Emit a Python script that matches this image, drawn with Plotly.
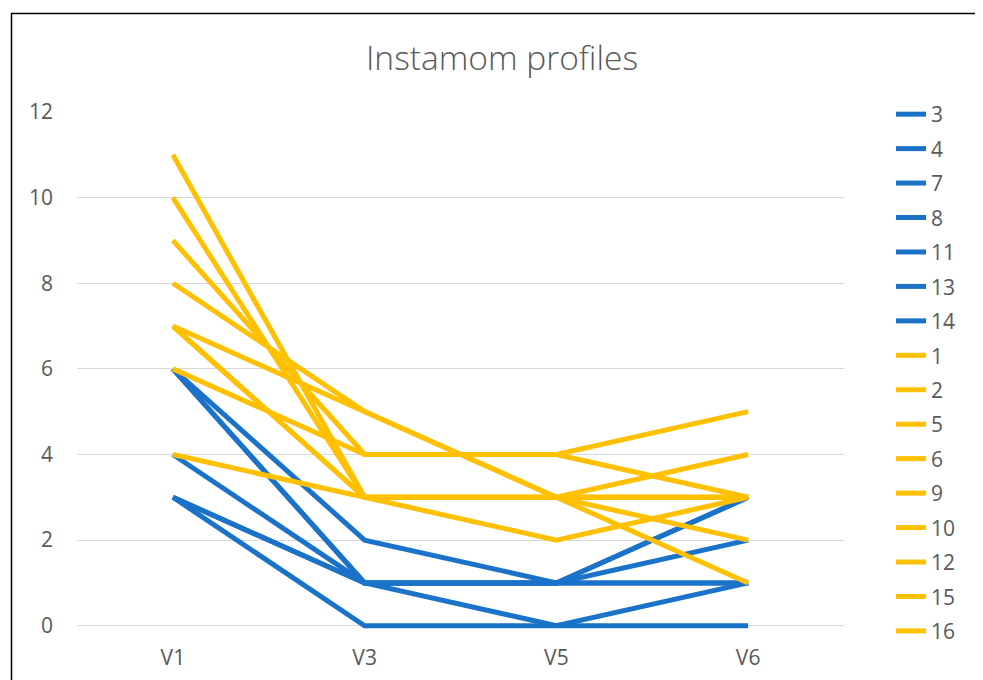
import plotly.graph_objects as go

categories = ["V1", "V3", "V5", "V6"]

blue_names = ["3", "4", "7", "8", "11", "13", "14"]
blue_values = [
    [6, 2, 1, 3],
    [6, 1, 1, 2],
    [4, 1, 1, 1],
    [3, 1, 0, 1],
    [3, 0, 0, 0],
    [3, 1, 1, 1],
    [6, 1, 1, 3],
]

yellow_names = ["1", "2", "5", "6", "9", "10", "12", "15", "16"]
yellow_values = [
    [11, 3, 3, 3],
    [10, 3, 3, 2],
    [9, 4, 4, 5],
    [8, 5, 3, 1],
    [7, 5, 3, 3],
    [7, 3, 3, 4],
    [6, 4, 4, 3],
    [4, 3, 2, 3],
    [7, 3, 3, 3],
]

BLUE = "#1A73C8"
YELLOW = "#FFC000"
TEXT = "#595959"
FONT = "Open Sans"

fig = go.Figure()
for name, vals in zip(blue_names, blue_values):
    fig.add_trace(go.Scatter(x=categories, y=vals, mode="lines", name=name,
                             legendgroup=name,
                             line=dict(color=BLUE, width=5)))
for name, vals in zip(yellow_names, yellow_values):
    fig.add_trace(go.Scatter(x=categories, y=vals, mode="lines", name=name,
                             legendgroup=name,
                             line=dict(color=YELLOW, width=5)))

# page has an 8px body margin; work in figure coordinates
OFF = 8
W, H = 983 - OFF, 680 - OFF
PX_PER_UNIT = (626 - 112) / 12
YMIN = -0.1
L, T = 77 - OFF, 112 - OFF
R = W - (844 - OFF)
B = H - (626 + (-YMIN) * PX_PER_UNIT - OFF)
pw = W - L - R
ph = H - T - B
bottom_px = 626 + (-YMIN) * PX_PER_UNIT  # page y of plot bottom

fig.update_layout(
    width=W, height=H,
    margin=dict(l=L, r=R, t=T, b=B, autoexpand=False),
    paper_bgcolor="white", plot_bgcolor="white",
    font=dict(family=FONT, color=TEXT, size=21),
    title=dict(text="Instamom profiles", x=(502 - OFF) / W, xref="container", xanchor="center",
               y=1 - (58 - OFF) / H, yref="container", yanchor="middle",
               font=dict(family=FONT, size=33.5, color=TEXT, weight=300)),
    xaxis=dict(type="category", range=[-0.5, 3.5], showgrid=False, zeroline=False,
               showline=False, ticks="", ticklabelstandoff=13,
               tickfont=dict(size=21, color=TEXT)),
    yaxis=dict(range=[YMIN, 12], tickvals=[0, 2, 4, 6, 8, 10, 12], showgrid=True,
               gridcolor="#D9D9D9", gridwidth=1,
               zeroline=False, showline=False, ticks="", ticklabelstandoff=23,
               tickfont=dict(size=21, color=TEXT)),
    legend=dict(x=(891 - OFF - L) / pw, xanchor="left",
                y=(bottom_px - 94) / ph, yanchor="top",
                tracegroupgap=4.15, font=dict(size=21, color=TEXT),
                bgcolor="rgba(0,0,0,0)", itemwidth=30, maxheight=H),
    showlegend=True,
    hovermode=False,
)

# chart-area border (top and left edges visible)
fig.add_shape(type="rect", xref="paper", yref="paper",
              x0=(11.5 - OFF - L) / pw, x1=(W + 20 - L) / pw,
              y0=-0.3, y1=(bottom_px - 13.5) / ph,
              line=dict(color="black", width=1.5), layer="below")

fig.write_html("out.html")
